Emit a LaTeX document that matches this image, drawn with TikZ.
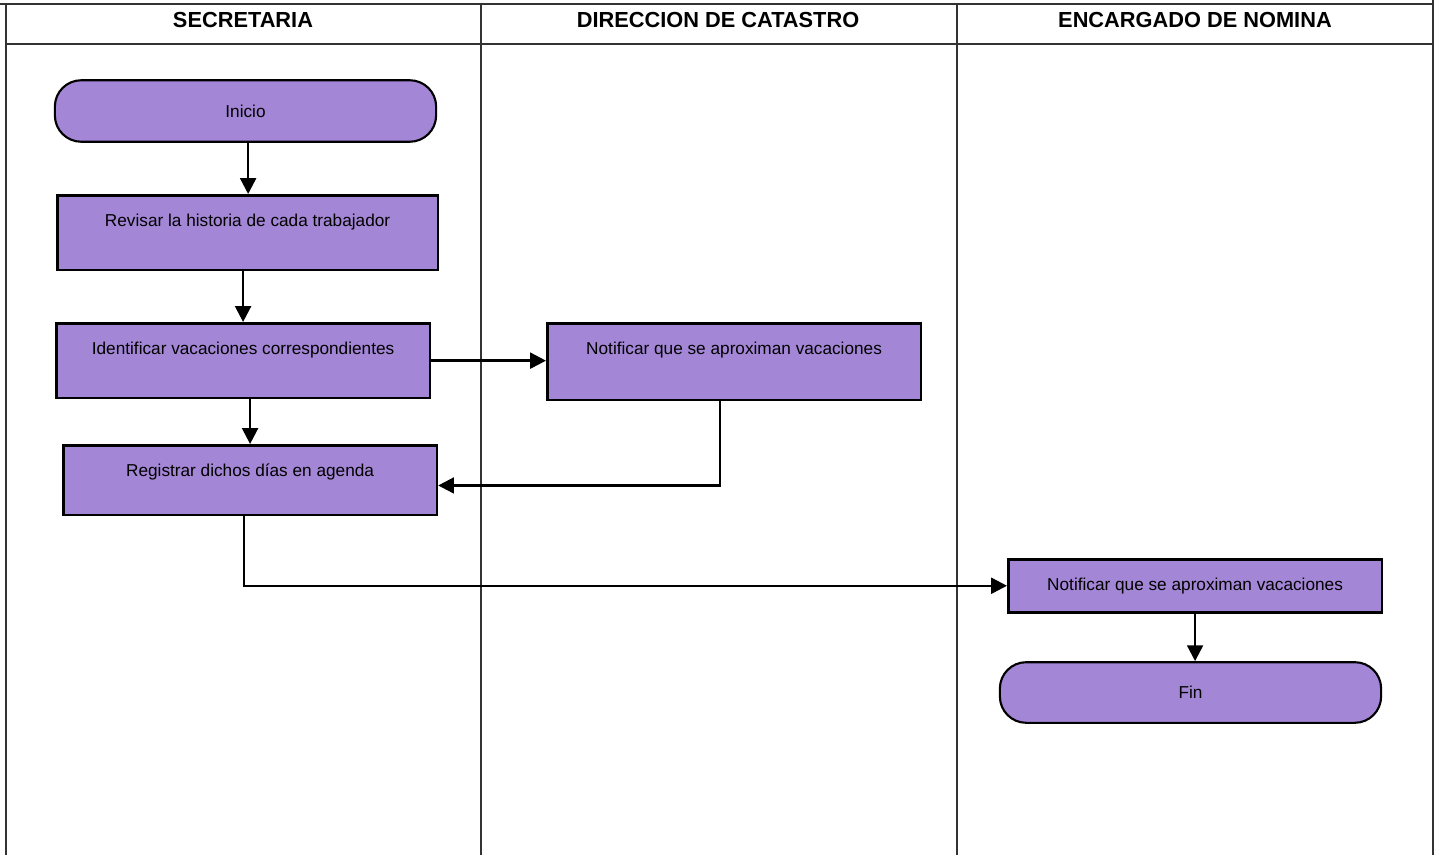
\documentclass[tikz,border=0pt]{standalone}
\usepackage{fontspec}
\setmainfont{Liberation Sans}
\usetikzlibrary{arrows.meta,positioning}
\definecolor{lila}{RGB}{164,134,214}

\begin{document}
\begin{tikzpicture}[
    x=0.02cm, y=-0.02cm,
    lane/.style={
        draw=black!80,
        line width=0.6pt
    },
    head/.style={
        font=\bfseries\fontsize{12.4}{14}\selectfont
    },
    paso/.style={
        rectangle,
        draw=black,
        line width=1.5pt,
        fill=lila,
        inner sep=0pt,
        anchor=north west,
        minimum width=212.6pt,
        text height=17.6pt,
        font=\fontsize{9.8}{12}\selectfont
    },
    terminal/.style={
        rectangle,
        rounded corners=15pt,
        draw=black,
        line width=1.2pt,
        fill=lila,
        minimum width=217pt,
        minimum height=35pt,
        font=\fontsize{9.8}{12}\selectfont
    },
    flecha/.style={
        -{Triangle[length=9pt,width=9pt]},
        line width=1.4pt
    }
]
\useasboundingbox (0,0) rectangle (1438,855);

% Swimlanes
\draw[lane] (0,4) -- (1433,4);
\draw[lane] (1433,0) -- (1433,855);
\draw[lane] (6,4) -- (6,855);
\draw[lane] (6,44) -- (1433,44);
\draw[lane] (481,4) -- (481,855);
\draw[lane] (957,4) -- (957,855);

\node[head] (secretaria) at (243,20) {SECRETARIA};
\node[head] (catastro) at (718,20) {DIRECCION DE CATASTRO};
\node[head] (nominahead) at (1195,20) {ENCARGADO DE NOMINA};

% Secretaria
\node[terminal] (inicio) at (245.5,111) {Inicio};
\node[paso, minimum width=216.6pt, text depth=24.9pt] (revisar) at (56,194)
    {Revisar la historia de cada trabajador};
\node[paso, text depth=24.9pt] (identificar) at (55,322)
    {Identificar vacaciones correspondientes};
\node[paso, text depth=22.1pt] (registrar) at (62,444)
    {Registrar dichos días en agenda};

% Direccion de catastro
\node[paso, text depth=26.1pt] (aviso) at (546,322)
    {Notificar que se aproximan vacaciones};

% Encargado de nomina
\node[paso, text depth=12.5pt] (nomina) at (1007,558)
    {Notificar que se aproximan vacaciones};
\node[terminal, minimum height=34.5pt] (fin) at (1190.5,692.5) {Fin};

% Connectors
\draw[flecha] ([xshift=1.5pt]inicio.south) -- ([xshift=1.5pt]inicio.south |- revisar.north);
\draw[flecha] (identificar.north |- revisar.south) -- (identificar.north);
\draw[flecha] (registrar.north |- identificar.south) -- (registrar.north);
\draw[flecha] (identificar.east) -- (identificar.east -| aviso.west);
\draw[flecha] ([xshift=-8pt]aviso.south) |- ([yshift=-3pt]registrar.east);
\draw[flecha] ([xshift=-3.5pt]registrar.south) |- (nomina.west);
\draw[flecha] (nomina.south) -- (nomina.south |- fin.north);

\end{tikzpicture}
\end{document}
